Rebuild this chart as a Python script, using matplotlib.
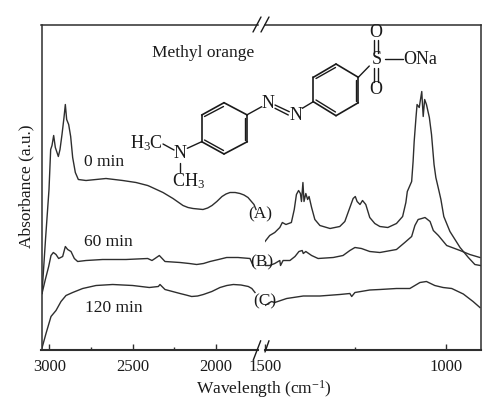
import matplotlib
matplotlib.use("Agg")
import matplotlib.pyplot as plt

plt.rcParams["font.family"] = "Liberation Serif"
plt.rcParams["mathtext.fontset"] = "custom"
plt.rcParams["mathtext.rm"] = "Liberation Serif"
plt.rcParams["mathtext.default"] = "rm"

INK = "#2e2e2e"

# wavenumber / absorbance, high wavenumber side
wn_a_high = [3044, 3023, 3002, 2992, 2984, 2974, 2964, 2946, 2936, 2924, 2912, 2904, 2896, 2884, 2872, 2860, 2844, 2826,
	2780, 2660, 2560, 2480, 2410, 2396, 2318, 2258, 2198, 2168, 2138, 2078, 2050, 2024, 1995, 1964, 1940, 1916, 1885, 1856, 1832, 1808, 1772, 1760]
abs_a_high = [56, 110, 160, 200, 204, 214, 202, 193, 200, 215, 232, 245, 230, 225, 213, 192, 177, 170,
	169, 171, 169, 167, 164, 163, 157, 151, 144, 142, 141, 140, 141.5, 144, 148, 153, 155.5, 157, 157, 156, 154.5, 152, 145, 140]

wn_b_high = [3044, 3024, 3004, 2990, 2976, 2960, 2944, 2920, 2904, 2890, 2870, 2850, 2830, 2780, 2680, 2540, 2410, 2384,
	2366, 2340, 2306, 2216, 2160, 2116, 2075, 2036, 1985, 1936, 1900, 1868, 1796, 1778]
abs_b_high = [56, 70, 83, 94, 97, 95, 91, 93, 103, 100, 98, 91, 88, 89, 90, 90, 91, 89,
	91, 94, 88, 87, 86, 85, 86, 88, 90, 92, 92, 92, 91, 84]

wn_c_high = [3044, 3020, 2990, 2960, 2930, 2900, 2860, 2800, 2720, 2620, 2500, 2400, 2346, 2336, 2306, 2216, 2180, 2146, 2110, 2076,
	2025, 1976, 1935, 1896, 1850, 1806, 1785, 1766]
abs_c_high = [1.5, 16, 33, 39, 48, 54, 57, 61, 64, 65, 64, 62, 63, 65, 60, 56, 54.5, 53, 53.5, 55,
	58, 62, 64, 65, 64.5, 63, 61, 57]

# low wavenumber side of the break
wn_a_low = [1500, 1487, 1473, 1459, 1452, 1442, 1427, 1419, 1413, 1407, 1402, 1399, 1395, 1392, 1387, 1382, 1378, 1371,
	1362, 1348, 1320, 1293, 1279, 1265, 1256, 1250, 1245, 1237, 1230, 1221, 1210, 1196, 1182, 1160, 1136, 1119,
	1110, 1106, 1094, 1090, 1087, 1082, 1079, 1073, 1066, 1064, 1062, 1058, 1053, 1045, 1039, 1032, 1027, 1018,
	1013, 1005, 988, 960, 937, 919, 904]
abs_a_low = [108, 114, 117, 122, 127, 125, 127, 140, 155, 159, 156, 148, 167, 148, 156, 150, 153, 142,
	130, 124, 121, 123, 128, 142, 151, 153, 148, 145, 149, 145, 132, 126, 123, 122, 126, 133,
	147, 158, 168, 188, 208, 232, 245, 242, 258, 245, 233, 250, 245, 232, 215, 185, 172, 158,
	150, 133, 118, 102, 92, 85, 84]

wn_b_low = [1500, 1487, 1473, 1459, 1457, 1450, 1431, 1417, 1406, 1397, 1394, 1387, 1371, 1353, 1311, 1284, 1265, 1251,
	1233, 1210, 1182, 1136, 1113, 1094, 1085, 1076, 1066, 1057, 1043, 1034, 1020, 997, 960, 933, 905]
abs_b_low = [84, 84, 86, 89, 84, 89, 89, 93, 98, 99, 96, 98, 94, 91, 92, 94, 99, 102,
	101, 98, 97, 100, 107, 113, 124, 130, 131, 132, 128, 119, 114, 104, 99, 95, 92]

wn_c_low = [1500, 1482, 1473, 1440, 1394, 1348, 1293, 1265, 1260, 1251, 1210, 1182, 1136, 1099, 1071, 1053, 1030, 1007,
	983, 951, 924, 905]
abs_c_low = [44, 48, 47, 51, 53.5, 53.5, 55, 56, 53, 57, 59.5, 60, 61, 61, 67, 68, 64, 62,
	61, 55.5, 48, 42]

fig = plt.figure(figsize=(5, 4.18), dpi=100)
ax1 = fig.add_axes([41.5 / 500, 68.5 / 418, 216.5 / 500, 325 / 418])
ax2 = fig.add_axes([265 / 500, 68.5 / 418, 216 / 500, 325 / 418])

ax1.plot(wn_a_high, abs_a_high, color=INK, lw=1.0)
ax1.plot(wn_b_high, abs_b_high, color=INK, lw=1.0)
ax1.plot(wn_c_high, abs_c_high, color=INK, lw=1.0)
ax2.plot(wn_a_low, abs_a_low, color=INK, lw=1.0)
ax2.plot(wn_b_low, abs_b_low, color=INK, lw=1.0)
ax2.plot(wn_c_low, abs_c_low, color=INK, lw=1.0)

ax1.set_xlim(3047, 1748)
ax2.set_xlim(1500, 902)
ax1.set_xticks([3000, 2500, 2000])
ax1.set_xticks([2750, 2250], minor=True)
ax2.set_xticks([1500, 1000])
ax2.set_xticks([1250], minor=True)

for ax in (ax1, ax2):
	ax.set_ylim(0, 325)
	ax.set_yticks([])
	ax.tick_params(axis="x", which="major", direction="in", length=4.5, width=1.0, color=INK, pad=7, labelsize=12, labelcolor="#1a1a1a")
	ax.tick_params(axis="x", which="minor", direction="in", length=2.5, width=1.0, color=INK)
	for s in ax.spines.values():
		s.set_color(INK)
		s.set_linewidth(1.1)
	ax.spines["bottom"].set_linewidth(1.5)
ax1.spines["right"].set_visible(False)
ax2.spines["left"].set_visible(False)

# overlay in picture pixels for labels, break marks and the molecule
ov = fig.add_axes([0, 0, 1, 1])
ov.set_xlim(0, 500)
ov.set_ylim(418, 0)
ov.axis("off")
ov.patch.set_alpha(0)


def bond(x0, y0, x1, y1, lw=1.0):
	ov.plot([x0, x1], [y0, y1], color="#1a1a1a", lw=lw, solid_capstyle="round")


def label(x, y, s, ha="left", size=12.5, **kw):
	ov.text(x, y, s, ha=ha, va="center", fontsize=size, color="#1a1a1a", **kw)


# break marks
bond(253, 32, 261, 17)
bond(261, 32, 269, 17)
bond(253.3, 360, 260.7, 340.7)
bond(265, 352, 269, 340.7)

label(26, 186.5, "Absorbance (a.u.)", ha="center", rotation=90, rotation_mode="anchor")
label(263.5, 389, "Wavelength (cm$^{-1}$)", ha="center")
label(152, 53, "Methyl orange")
label(84, 162, "0 min")
label(84, 241.5, "60 min")
label(85, 308, "120 min")
label(260, 214, "(A)", ha="center")
label(261.5, 262, "(B)", ha="center")
label(265, 301, "(C)", ha="center")

# ring 1
ring1 = [(224, 102.7), (247.3, 115), (247.3, 141.7), (224, 154), (201.7, 141.7), (201.7, 115)]
ring2 = [(336, 64), (358.3, 77.3), (358.3, 102.7), (336, 115.7), (313.3, 101.7), (313.3, 77.3)]
for ring in (ring1, ring2):
	for i in range(6):
		p, q = ring[i], ring[(i + 1) % 6]
		bond(p[0], p[1], q[0], q[1], lw=1.2)
# inner lines of the double bonds
bond(204.5, 116.5, 223.5, 106.5)
bond(244.5, 117.5, 244.5, 139.5)
bond(204.5, 140, 223.5, 150.5)
bond(316, 78.5, 335.5, 67.5)
bond(355.5, 79.5, 355.5, 100.5)
bond(316, 100, 335.5, 112)

# amine end
label(130, 143, "H$_3$C", size=13)
bond(163, 144, 174, 150)
label(180, 154, "N", ha="center", size=13)
bond(187.3, 148.3, 201.7, 141.7)
bond(180, 163, 180, 172)
label(172.5, 181, "CH$_3$", size=13)

# azo group
bond(246.7, 115, 261.7, 106.7)
label(268.3, 104, "N", ha="center", size=13)
bond(275, 105, 289.3, 111.7)
bond(275, 108.3, 288.3, 115)
label(295.7, 116, "N", ha="center", size=13)
bond(302.3, 108.3, 313.3, 101.7)

# sulfonate end
bond(358.3, 77.3, 369.3, 66)
label(377.3, 60, "S", ha="center", size=13)
label(375.7, 32.5, "O", ha="center", size=13)
label(375.7, 89, "O", ha="center", size=13)
bond(374, 40, 374, 53)
bond(378.3, 40, 378.3, 53)
bond(374, 68, 374, 81.7)
bond(378.3, 68, 378.3, 81.7)
bond(385, 59.3, 402.7, 59.3)
label(403, 60, "ONa", size=13)

fig.savefig("out.png", dpi=100)
